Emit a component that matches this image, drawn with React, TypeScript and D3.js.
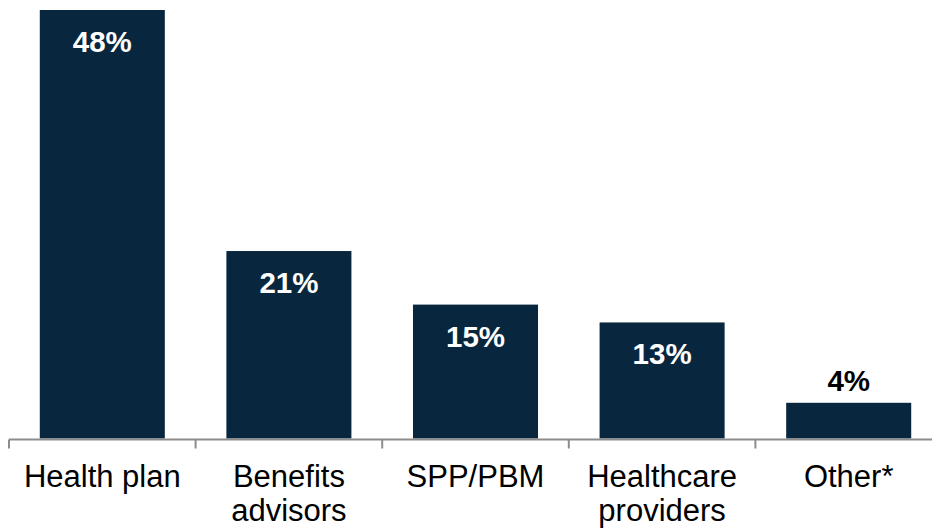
import React from "react";
import * as d3 from "d3";

const categories = ["Health plan", "Benefits advisors", "SPP/PBM", "Healthcare providers", "Other*"];
const categoryLines = [["Health plan"], ["Benefits", "advisors"], ["SPP/PBM"], ["Healthcare", "providers"], ["Other*"]];
const values = [48, 21, 15, 13, 4];
const valueLabels = ["48%", "21%", "15%", "13%", "4%"];

const W = 932;
const H = 530;
const baseY = 438.5;
const topY = 10;
const x0 = 9;
const step = 186.6;

export default function App() {
  const x = d3
    .scaleBand<string>()
    .domain(categories)
    .range([x0, x0 + step * categories.length])
    .paddingInner(0.33)
    .paddingOuter(0.165);
  const y = d3.scaleLinear().domain([0, 48]).range([baseY, topY]);
  const font = "'Liberation Sans', Arial, sans-serif";
  const ticks = d3.range(categories.length + 1).map((i) => x0 + i * step);

  return (
    <svg width={W} height={H} style={{ position: "absolute", left: 0, top: 0 }}>
      <rect width={W} height={H} fill="#fff" />
      {categories.map((c, i) => {
        const v = values[i];
        const bx = x(c)!;
        const bw = x.bandwidth();
        const by = y(v);
        const inside = baseY - by > 60;
        return (
          <g key={c}>
            <rect x={bx} y={by} width={bw} height={baseY - by} fill="#08273e" />
            <text
              x={bx + bw / 2}
              y={inside ? by + 42 : by - 12}
              textAnchor="middle"
              fontFamily={font}
              fontWeight="bold"
              fontSize={29.5}
              fill={inside ? "#fff" : "#000"}
            >
              {valueLabels[i]}
            </text>
            {categoryLines[i].map((ln, j) => (
              <text
                key={j}
                x={bx + bw / 2}
                y={487 + j * 34}
                textAnchor="middle"
                fontFamily={font}
                fontSize={31}
                fill="#000"
              >
                {ln}
              </text>
            ))}
          </g>
        );
      })}
      <line x1={x0} x2={x0 + step * categories.length} y1={baseY + 1} y2={baseY + 1} stroke="#8c8c8c" strokeWidth={2} />
      {ticks.map((t, i) => (
        <line key={i} x1={t} x2={t} y1={baseY + 1} y2={baseY + 10} stroke="#8c8c8c" strokeWidth={2} />
      ))}
    </svg>
  );
}
